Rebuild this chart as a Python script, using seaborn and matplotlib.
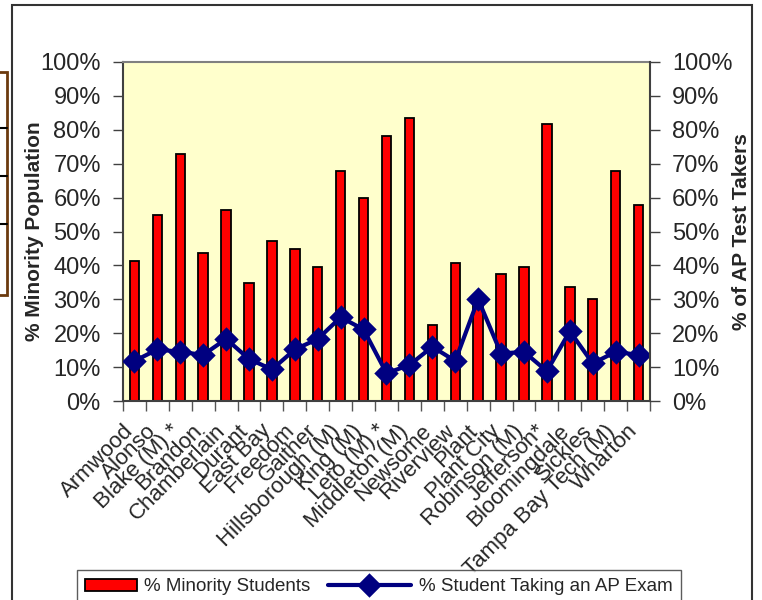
import matplotlib
matplotlib.use("Agg")
import matplotlib.pyplot as plt
import seaborn as sns
import pandas as pd
import numpy as np
from matplotlib.patches import Rectangle
from matplotlib.lines import Line2D
from matplotlib.ticker import PercentFormatter, MultipleLocator
from matplotlib.transforms import ScaledTranslation
from matplotlib.legend_handler import HandlerLine2D

schools = ["Armwood", "Alonso", "Blake (M) *", "Brandon", "Chamberlain", "Durant",
           "East Bay", "Freedom", "Gaither", "Hillsborough (M)", "King (M)",
           "Leto (M) *", "Middleton (M)", "Newsome", "Riverview", "Plant",
           "Plant City", "Robinson (M)", "Jefferson*", "Bloomingdale", "Sickles",
           "Tampa Bay Tech (M)", "Wharton"]
minority_pct = [41.3, 54.8, 72.9, 43.6, 56.4, 34.7, 47.1, 44.8, 39.4, 67.7, 60.0,
                78.2, 83.6, 22.4, 40.6, 28.5, 37.6, 39.4, 81.8, 33.5, 30.1, 67.7, 57.8]
ap_pct = [11.8, 15.2, 14.5, 13.6, 18.3, 12.4, 9.3, 15.2, 18.3, 24.7, 21.1,
          8.2, 10.6, 16.0, 11.8, 30.0, 14.0, 14.5, 8.8, 20.6, 11.1, 14.5, 13.6]

df = pd.DataFrame({"School": schools, "Minority": minority_pct, "AP": ap_pct})

sns.set_theme(style="ticks")
plt.rcParams["font.family"] = ["Liberation Sans", "DejaVu Sans"]

W, H = 762, 600
fig = plt.figure(figsize=(W / 100, H / 100), dpi=100)
ax = fig.add_axes([123 / W, 1 - 401 / H, (650 - 123) / W, (401 - 62) / H])
ax.set_facecolor("#FFFFCC")

sns.barplot(data=df, x="School", y="Minority", color="#FF0000", saturation=1,
            edgecolor="black", linewidth=1.3, width=0.41, ax=ax)

ax2 = ax.twinx()
sns.pointplot(data=df, x="School", y="AP", color="#000080", markers="D",
              linestyles="-", errorbar=None, linewidth=3, markersize=10, ax=ax2)

n = len(schools)
ax.set_xlim(-0.5, n - 0.5)
for a in (ax, ax2):
    a.set_ylim(0, 100)
    a.yaxis.set_major_locator(MultipleLocator(10))
    a.yaxis.set_major_formatter(PercentFormatter(100, decimals=0))

ax.set_xticks(range(n))
ax.set_xticklabels(schools, rotation=45, ha="right", rotation_mode="anchor", fontsize=16)
ax.set_xticks(np.arange(-0.5, n, 1), minor=True)
ax.tick_params(axis="x", which="major", length=0, pad=6)
ax.tick_params(axis="x", which="minor", length=7, width=1, color="#555555", direction="out")
ax.tick_params(axis="y", length=7, width=1, color="#404040", labelsize=17, pad=9)
ax2.tick_params(axis="y", length=7, width=1, color="#404040", labelsize=17, pad=9)
ax.set_xlabel("")
ax2.set_xlabel("")

ax.set_ylabel("% Minority Population", fontsize=15, fontweight="bold", va="center")
ax.yaxis.set_label_coords(-0.168, 0.5)
ax2.set_ylabel("% of AP Test Takers", fontsize=15, fontweight="bold", va="center",
               rotation=90)
ax2.yaxis.set_label_coords(1.174, 0.5)

for s in ("left", "bottom"):
    ax.spines[s].set_color("#404040")
    ax.spines[s].set_linewidth(1.5)
ax.spines["top"].set_visible(True)
ax.spines["top"].set_color("#808080")
ax.spines["top"].set_linewidth(1.5)
ax.spines["right"].set_visible(False)
for s in ("left", "bottom", "top"):
    ax2.spines[s].set_visible(False)
ax2.spines["right"].set_visible(True)
ax2.spines["right"].set_color("#404040")
ax2.spines["right"].set_linewidth(1.5)

# push the slanted school names a little further down-left along their own direction
shift = ScaledTranslation(-0.115, -0.11, fig.dpi_scale_trans)
for lbl in ax.get_xticklabels():
    lbl.set_transform(lbl.get_transform() + shift)


class LongLineHandler(HandlerLine2D):
    # the line sample in the legend reaches further left than the bar sample
    def get_xdata(self, legend, xdescent, ydescent, width, height, fontsize):
        ext = 1.7 * fontsize
        xdata = np.array([-xdescent - ext, -xdescent + width])
        return xdata, np.array([xdata.mean()])


handles = [ax.containers[0], ax2.lines[0]]
labels = ["% Minority Students", "% Student Taking an AP Exam"]
leg = fig.legend(handles, labels, loc="upper left",
                 bbox_to_anchor=(77 / W, 1 - 570 / H), ncol=2, fontsize=13.5,
                 frameon=True, fancybox=False, edgecolor="#333333",
                 borderpad=0.45, borderaxespad=0, handlelength=2.75,
                 handleheight=0.6, handletextpad=0.4, columnspacing=2.6,
                 numpoints=1, handler_map={ax2.lines[0]: LongLineHandler()})
leg.get_frame().set_linewidth(1.0)
leg.get_frame().set_facecolor("white")

# chart-area frame and a sliver of a neighbouring table at the left edge
fig.add_artist(Rectangle((12 / W, -0.1), (752 - 12) / W, 1.1 - 5 / H,
                         transform=fig.transFigure, fill=False,
                         edgecolor="#333333", linewidth=1.5))
fig.add_artist(Rectangle((-0.01, 1 - 295 / H), 0.01 + 7 / W, (295 - 72) / H,
                         transform=fig.transFigure, fill=False,
                         edgecolor="#6B3A0E", linewidth=2))
for yy in (128, 176, 224):
    fig.add_artist(Line2D([0, 7 / W], [1 - yy / H, 1 - yy / H],
                          transform=fig.transFigure, color="black", linewidth=1.5))

fig.savefig("out.png", dpi=100)
